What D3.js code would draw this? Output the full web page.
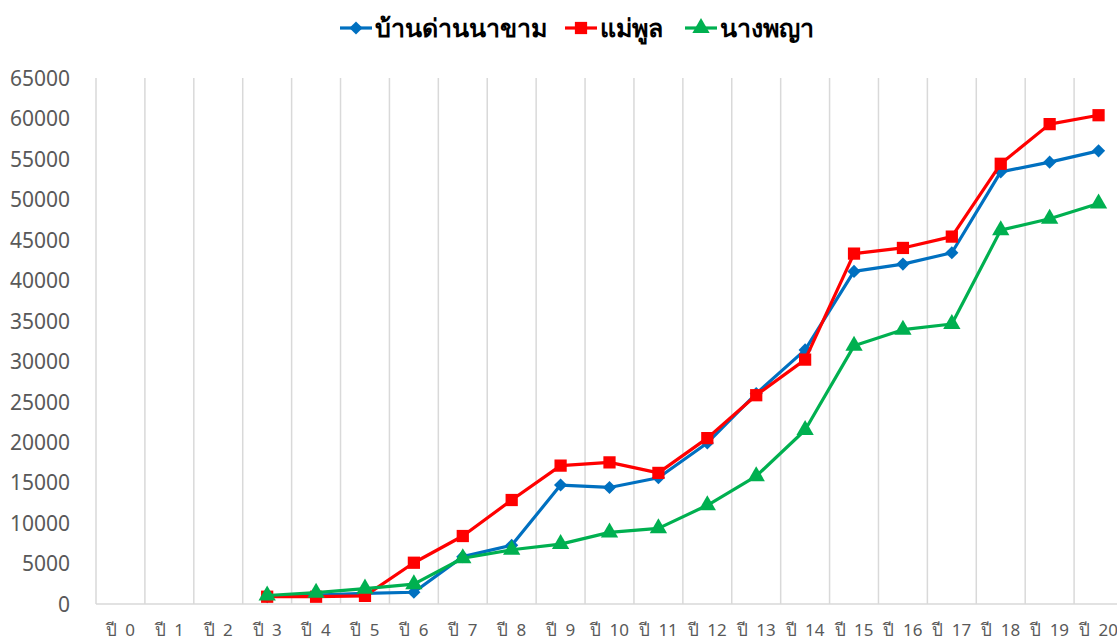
<!DOCTYPE html>
<html><head><meta charset="utf-8">
<script src="https://cdn.jsdelivr.net/npm/d3@7/dist/d3.min.js"></script>
<style>body{margin:0;background:#fff;}svg{display:block;}</style>
</head><body>
<svg id="c" width="1117" height="641"></svg>
<script>
const categories = ["ปี 0","ปี 1","ปี 2","ปี 3","ปี 4","ปี 5","ปี 6","ปี 7","ปี 8","ปี 9","ปี 10","ปี 11","ปี 12","ปี 13","ปี 14","ปี 15","ปี 16","ปี 17","ปี 18","ปี 19","ปี 20"];
const seriesNames = ["บ้านด่านนาขาม","แม่พูล","นางพญา"];
const banDanNaKham = [null,null,null,900,1100,1320,1450,5850,7250,14700,14400,15600,19900,26000,31400,41100,42000,43400,53400,54600,56000];
const maePoon = [null,null,null,900,900,1000,5100,8400,12850,17100,17500,16200,20500,25800,30200,43300,44000,45400,54400,59300,60400];
const nangPhaya = [null,null,null,1050,1400,1900,2450,5650,6700,7400,8850,9350,12200,15800,21500,31900,33900,34600,46200,47600,49500];
const yTicks = [0,5000,10000,15000,20000,25000,30000,35000,40000,45000,50000,55000,60000,65000];

(function(){
const colors = ["#0070C0","#FF0000","#00B050"];
const symbols = [d3.symbolDiamond2 || d3.symbolDiamond, d3.symbolSquare, d3.symbolTriangle];

const svg = d3.select("#c");
const pLeft = 96, pRight = 1123, pTop = 78, pBottom = 604;
const x = d3.scaleBand().domain(categories).range([pLeft, pRight]).padding(0);
const y = d3.scaleLinear().domain([0, 65000]).range([pBottom, pTop]);

const bounds = categories.map(c => x(c));
svg.append("g").selectAll("line").data(bounds).join("line")
  .attr("x1", d => d).attr("x2", d => d).attr("y1", pTop).attr("y2", pBottom)
  .attr("stroke", "#d9d9d9").attr("stroke-width", 1.5);
svg.append("line").attr("x1", pLeft).attr("x2", pRight).attr("y1", y(0)).attr("y2", y(0))
  .attr("stroke", "#d9d9d9").attr("stroke-width", 1.5);

const yAxis = d3.axisLeft(y).tickValues(yTicks).tickSize(0).tickPadding(0).tickFormat(d3.format("d"));
const yg = svg.append("g").attr("transform", `translate(70,0)`).call(yAxis);
yg.select(".domain").remove();
yg.selectAll("text").attr("font-family", "'Noto Sans', 'DejaVu Sans', sans-serif").attr("font-size", 21).attr("fill", "#595959").attr("dy", "0.35em");

const xAxis = d3.axisBottom(x).tickSize(0).tickPadding(0);
const xg = svg.append("g").attr("transform", `translate(0,${pBottom})`).call(xAxis);
xg.select(".domain").remove();
xg.selectAll("text").attr("font-family", "'Noto Sans', 'DejaVu Sans', sans-serif").attr("font-size", 17).attr("fill", "#595959")
  .attr("dy", 0).attr("y", 32).attr("word-spacing", 4).attr("style", "white-space:pre");

const allSeries = [banDanNaKham, maePoon, nangPhaya];
const sizes = [110, 150, 130];
const line = d3.line().defined(d => d.v != null).x(d => x(d.c) + x.bandwidth()/2).y(d => y(d.v));
allSeries.forEach((vals, i) => {
  const pts = vals.map((v, j) => ({c: categories[j], v}));
  svg.append("path").datum(pts).attr("d", line).attr("fill", "none")
    .attr("stroke", colors[i]).attr("stroke-width", 3.2).attr("stroke-linejoin", "round");
  svg.append("g").selectAll("path").data(pts.filter(d => d.v != null)).join("path")
    .attr("transform", d => `translate(${x(d.c) + x.bandwidth()/2},${y(d.v)})`)
    .attr("d", d3.symbol().type(symbols[i]).size(sizes[i]))
    .attr("fill", colors[i]);
});

const legendX = [340, 565, 685];
seriesNames.forEach((n, i) => {
  const g = svg.append("g").attr("transform", `translate(${legendX[i]},28)`);
  g.append("line").attr("x1", 0).attr("x2", 32).attr("stroke", colors[i]).attr("stroke-width", 3.2);
  g.append("path").attr("transform", "translate(16,0)").attr("d", d3.symbol().type(symbols[i]).size(sizes[i])).attr("fill", colors[i]);
  g.append("text").attr("x", 35).attr("y", 0).attr("dy", "0.35em")
    .attr("font-family", "'Noto Sans', 'DejaVu Sans', sans-serif").attr("font-weight", "bold")
    .attr("font-size", 25).attr("fill", "#000").text(n);
});
})();
</script>
</body></html>
